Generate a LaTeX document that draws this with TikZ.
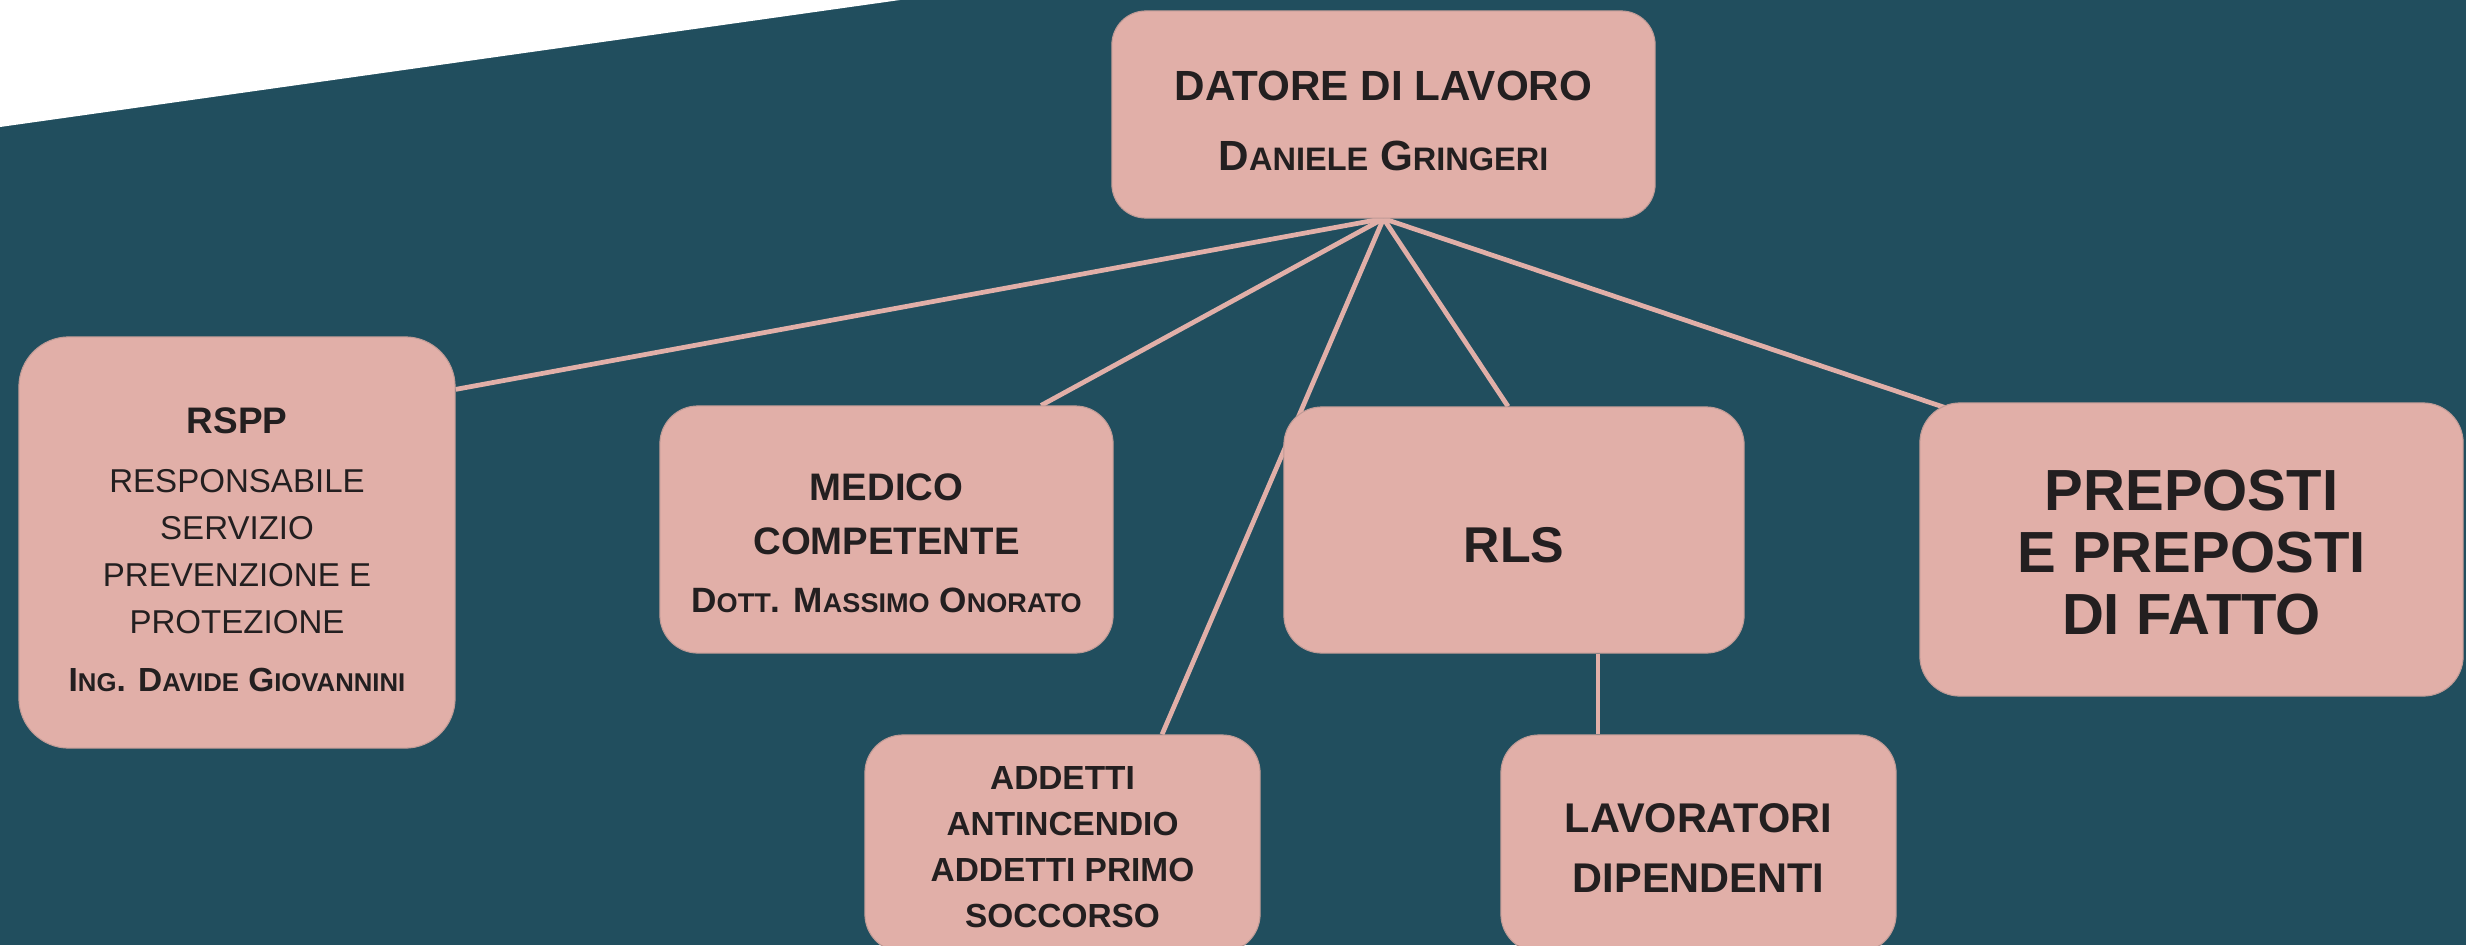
\documentclass[tikz,border=0pt]{standalone}
\usepackage{fontspec}
\setmainfont{Liberation Sans}
\usepackage{graphicx}
\usepackage{tikz}
\usetikzlibrary{calc}
\definecolor{fondo}{HTML}{214E5E}
\definecolor{rosa}{HTML}{E1AFA8}
\definecolor{bordo}{HTML}{C09B96}
\definecolor{testo}{HTML}{231F20}
\newcommand{\minicaps}[1]{\scalebox{0.77}{#1}}
\pgfdeclarelayer{sfondo}
\pgfdeclarelayer{linee}
\pgfsetlayers{sfondo,linee,main}

\begin{document}
\begin{tikzpicture}[x=0.01cm, y=-0.01cm,
  box/.style={draw=bordo, line width=0.3pt, fill=rosa, text=testo, align=center,
    inner sep=0pt, rounded corners=0.38cm},
  link/.style={draw=rosa, line width=1.35pt}]
\useasboundingbox (0,0) rectangle (2466,945);
\begin{pgfonlayer}{sfondo}
\fill[fondo] (0,0) rectangle (2466,945);
\fill[white] (0,0) -- (900,0) -- (0,127) -- cycle;
\end{pgfonlayer}

\path
(1383.5,114.5) node[box, minimum width=5.43cm, minimum height=2.07cm, rounded corners=0.34cm,
  font=\fontsize{12}{20}\selectfont\bfseries] (datore)
  {\rule{0pt}{0.43cm}DATORE DI LAVORO\\ D\minicaps{ANIELE} G\minicaps{RINGERI}};
\path
(237,542.5) node[box, minimum width=4.36cm, minimum height=4.11cm, rounded corners=0.5cm,
  font=\fontsize{9.4}{13.4}\selectfont] (rspp)
  {{\bfseries\fontsize{10.5}{13.4}\selectfont \rule{0pt}{0.4cm}RSPP}\\[3.5pt] RESPONSABILE\\ SERVIZIO\\
   PREVENZIONE E\\ PROTEZIONE\\[3pt]
   {\bfseries\fontsize{9.5}{13.4}\selectfont I\minicaps{NG}. D\minicaps{AVIDE} G\minicaps{IOVANNINI}}};
\path
(886.5,529.5) node[box, minimum width=4.53cm, minimum height=2.47cm,
  font=\fontsize{10.9}{15.4}\selectfont\bfseries] (medico)
  {\rule{0pt}{0.55cm}MEDICO\\ COMPETENTE\\[1.1pt]
   {\fontsize{10}{15.4}\selectfont D\minicaps{OTT}. M\minicaps{ASSIMO} O\minicaps{NORATO}}};
\path
(1514,530) node[box, minimum width=4.6cm, minimum height=2.46cm,
  font=\fontsize{14.3}{17}\selectfont\bfseries] (rls)
  {\rule{0pt}{0.66cm}RLS};
\path
(2191.5,549.5) node[box, minimum width=5.43cm, minimum height=2.93cm, rounded corners=0.4cm,
  font=\fontsize{16.5}{17.6}\selectfont\bfseries] (preposti)
  {\rule{0pt}{0.46cm}PREPOSTI\\ E PREPOSTI\\ DI FATTO};
\path
(1062.5,843.5) node[box, minimum width=3.95cm, minimum height=2.17cm,
  font=\fontsize{9.5}{13.1}\selectfont\bfseries] (addetti)
  {\rule{0pt}{0.3cm}ADDETTI\\ ANTINCENDIO\\ ADDETTI PRIMO\\ SOCCORSO};
\path
(1698.5,843.5) node[box, minimum width=3.95cm, minimum height=2.17cm,
  font=\fontsize{11.8}{16.8}\selectfont\bfseries] (lavoratori)
  {\rule{0pt}{0.38cm}LAVORATORI\\ DIPENDENTI};

\begin{pgfonlayer}{linee}
\draw[link] (datore.south) -- (rspp.35);
\draw[link] (datore.south) -- ([xshift=1.545cm]medico.north);
\draw[link] (datore.south) -- ([xshift=0.995cm]addetti.north);
\draw[link] (datore.south) -- ([xshift=-0.06cm]rls.north);
\draw[link] (datore.south) -- ([xshift=0.4cm,yshift=-0.1cm]preposti.north west);
\draw[link] ([xshift=0.84cm]rls.south) -- ([xshift=0.84cm]rls.south |- lavoratori.north);
\end{pgfonlayer}
\end{tikzpicture}
\end{document}
